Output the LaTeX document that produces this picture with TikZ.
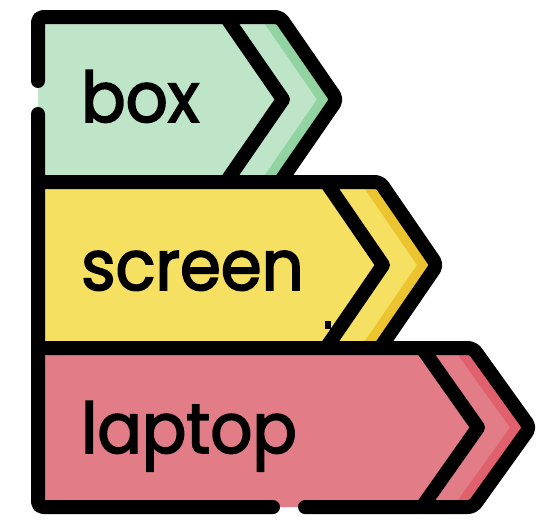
\documentclass[tikz,border=0pt]{standalone}
\usepackage{fontspec}
\setmainfont{Poppins}[FakeBold=2.4,FakeStretch=0.94]
\definecolor{glight}{RGB}{191,229,200}
\definecolor{gdark}{RGB}{146,211,162}
\definecolor{ylight}{RGB}{246,224,98}
\definecolor{ydark}{RGB}{236,196,48}
\definecolor{rlight}{RGB}{226,124,134}
\definecolor{rdark}{RGB}{224,96,110}
\begin{document}
\begin{tikzpicture}[x=1pt,y=-1pt,
  outline/.style={line width=14pt,line cap=round,line join=round,rounded corners=5pt},
  chev/.style={line width=14pt,line cap=round,line join=round},
  lbl/.style={anchor=base west,inner sep=0pt,font=\fontsize{70}{70}\selectfont}]
\useasboundingbox (0,0) rectangle (537,522);
% fills
\fill[glight] (38,17) -- (280,17) -- (337,99.5) -- (280,182) -- (38,182) -- cycle;
\fill[gdark] (260,17) -- (280,17) -- (337,99.5) -- (280,182) -- (260,182) -- (317,99.5) -- cycle;
\fill[ylight] (38,182) -- (380,182) -- (437,265) -- (380,348) -- (38,348) -- cycle;
\fill[ydark] (360,182) -- (380,182) -- (437,265) -- (380,348) -- (360,348) -- (417,265) -- cycle;
\fill[rlight] (38,348) -- (473,348) -- (530,427.5) -- (473,507) -- (38,507) -- cycle;
\fill[rdark] (453,348) -- (473,348) -- (530,427.5) -- (473,507) -- (453,507) -- (510,427.5) -- cycle;
% inner chevrons
\draw[chev] (226,17) -- (283,99.5) -- (226,182);
\draw[chev] (326,182) -- (383,265) -- (326,348);
\draw[chev] (422,348) -- (478,427.5) -- (422,507);
\fill (325,321) rectangle (331,329);
% outline
\draw[outline] (38,81) -- (38,17) -- (280,17) -- (337,99.5) -- (280,182);
\draw[outline] (38,182) -- (380,182) -- (437,265) -- (380,348);
\draw[outline] (38,348) -- (473,348) -- (530,427.5) -- (473,507) -- (305,507);
\draw[outline] (38,114) -- (38,507) -- (273,507);
% labels
\node[lbl] (box) at (81,122) {box};
\node[lbl] (screen) at (81,290) {screen};
\node[lbl] (laptop) at (81,453) {laptop};
\end{tikzpicture}
\end{document}
